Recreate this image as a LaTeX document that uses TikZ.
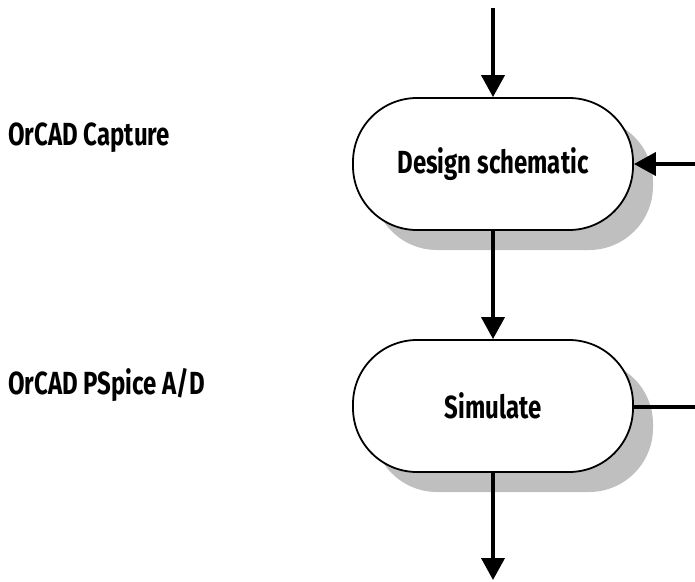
\documentclass[tikz,border=0pt]{standalone}
\usepackage{fontspec}
\setmainfont[FakeStretch=0.75,BoldFeatures={FakeStretch=0.75}]{Fira Sans}
\usetikzlibrary{arrows.meta,shadows}
\tikzstyle{proc}=[draw, line width=1.8pt, fill=white, rounded corners=64pt,
  minimum width=280pt, minimum height=132pt, inner sep=0pt,
  font=\bfseries\fontsize{32}{34}\selectfont,
  drop shadow={shadow xshift=20pt, shadow yshift=-20pt, fill=black!25, opacity=1}]
\tikzstyle{tool}=[anchor=west, inner sep=0pt, font=\bfseries\fontsize{32}{34}\selectfont]
\tikzstyle{flow}=[line width=3.8pt, -{Triangle[width=23pt,length=22pt]}]

\begin{document}
\begin{tikzpicture}[x=1pt,y=-1pt]
\useasboundingbox (0,0) rectangle (695,581);
\coordinate (in) at (493,8);
\coordinate (back) at (695,164);
\coordinate (out) at (695,407);
\coordinate (end) at (493,580);
\node[proc] (design) at (493,164) {Design schematic};
\node[proc] (sim) at (493,406) {Simulate};
\node[tool] (capture) at (8,138) {OrCAD Capture};
\node[tool] (pspice) at (8,385) {OrCAD PSpice A/D};
\draw[flow] (in) -- (design);
\draw[flow] (back) -- (design.east);
\draw[flow] (design) -- (sim);
\draw[flow] (sim) -- (end);
\draw[line width=3.8pt] (sim.east |- out) -- (out);
\end{tikzpicture}
\end{document}
